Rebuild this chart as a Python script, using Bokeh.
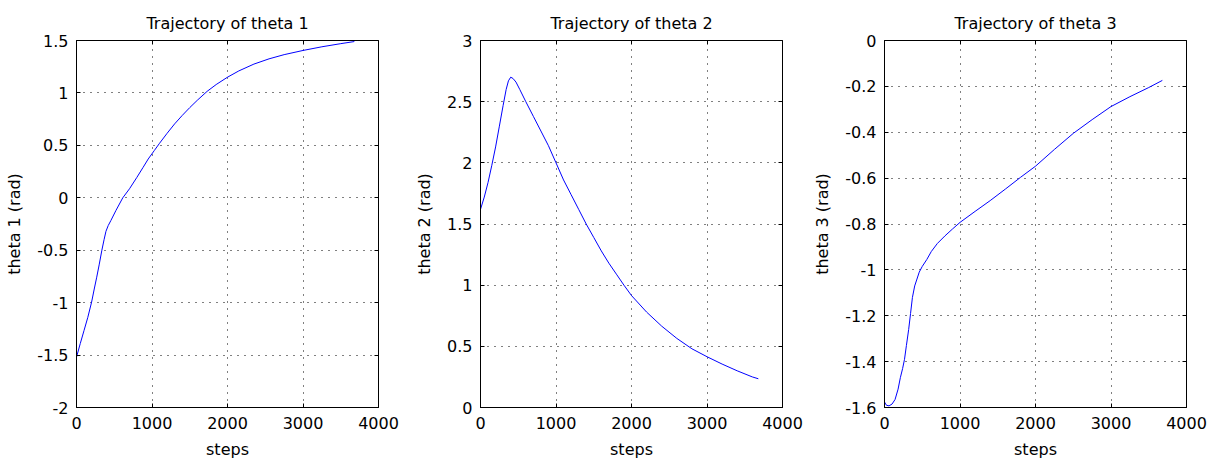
from bokeh.plotting import figure
from bokeh.layouts import row
from bokeh.models import FixedTicker, CustomJSTickFormatter, LinearAxis, Range1d
from bokeh.embed import file_html
from bokeh.resources import INLINE

# ---- data ----
x_ticks = [0, 1000, 2000, 3000, 4000]

steps1 = [0, 50, 100, 150, 200, 235, 268, 300, 336, 365, 390, 420, 456, 523, 613,
          702, 800, 882, 950, 1030, 1100, 1200, 1300, 1400, 1500, 1600, 1730, 1850,
          2000, 2150, 2350, 2550, 2750, 3000, 3250, 3500, 3680]
theta1 = [-1.52, -1.39, -1.265, -1.14, -0.995, -0.87, -0.757, -0.64, -0.5, -0.4,
          -0.32, -0.265, -0.216, -0.12, 0.0, 0.086, 0.195, 0.29, 0.37, 0.45, 0.52,
          0.615, 0.705, 0.785, 0.86, 0.93, 1.015, 1.08, 1.15, 1.21, 1.275, 1.325,
          1.365, 1.405, 1.44, 1.47, 1.49]
y_ticks1 = [-2, -1.5, -1, -0.5, 0, 0.5, 1, 1.5]

steps2 = [0, 50, 100, 150, 200, 250, 300, 340, 370, 400, 430, 470, 520, 600, 700,
          800, 900, 1000, 1100, 1200, 1300, 1400, 1500, 1600, 1700, 1800, 1900, 2000,
          2200, 2400, 2600, 2800, 3000, 3200, 3400, 3600, 3680]
theta2 = [1.62, 1.72, 1.84, 1.98, 2.13, 2.3, 2.47, 2.6, 2.67, 2.70, 2.69, 2.66, 2.6,
          2.5, 2.38, 2.26, 2.14, 2.0, 1.86, 1.74, 1.62, 1.5, 1.39, 1.28, 1.18, 1.09,
          1.0, 0.915, 0.78, 0.665, 0.565, 0.48, 0.415, 0.355, 0.3, 0.25, 0.235]
y_ticks2 = [0, 0.5, 1, 1.5, 2, 2.5, 3]

steps3 = [0, 25, 60, 100, 140, 180, 210, 240, 265, 290, 320, 345, 370, 400, 430,
          460, 500, 560, 620, 700, 800, 900, 1000, 1200, 1400, 1600, 1800, 2000,
          2250, 2500, 2750, 3000, 3250, 3500, 3680]
theta3 = [-1.576, -1.59, -1.593, -1.585, -1.565, -1.52, -1.47, -1.43, -1.39, -1.33,
          -1.26, -1.19, -1.12, -1.07, -1.04, -1.01, -0.985, -0.955, -0.92, -0.885,
          -0.852, -0.822, -0.793, -0.745, -0.698, -0.648, -0.597, -0.548, -0.475,
          -0.405, -0.345, -0.288, -0.245, -0.205, -0.174]
y_ticks3 = [-1.6, -1.4, -1.2, -1, -0.8, -0.6, -0.4, -0.2, 0]

FONT = "DejaVu Sans"
FS = "16px"


def style_axis(ax, ticks, show_labels=True):
    ax.ticker = FixedTicker(ticks=ticks)
    if show_labels:
        ax.formatter = CustomJSTickFormatter(code="return tick.toString();")
    else:
        ax.formatter = CustomJSTickFormatter(code="return '';")
    ax.major_tick_in = 4
    ax.major_tick_out = 0
    ax.minor_tick_in = 0
    ax.minor_tick_out = 0
    ax.axis_line_color = "black"
    ax.major_tick_line_color = "black"
    ax.major_label_text_font = FONT
    ax.major_label_text_font_size = FS
    ax.major_label_text_color = "black"
    ax.axis_label_text_font = FONT
    ax.axis_label_text_font_size = FS
    ax.axis_label_text_font_style = "normal"
    ax.axis_label_text_color = "black"


def make_panel(title, xs, ys, ylabel, y_ticks):
    p = figure(frame_width=302, frame_height=367,
               min_border_left=76, min_border_right=26,
               min_border_top=40, min_border_bottom=52,
               x_range=Range1d(0, 4000),
               y_range=Range1d(min(y_ticks), max(y_ticks)),
               output_backend="svg", toolbar_location=None,
               title=title)
    p.title.text_font = FONT
    p.title.text_font_size = FS
    p.title.text_font_style = "normal"
    p.title.text_color = "black"
    p.title.align = "center"
    p.title.standoff = 16

    style_axis(p.xaxis[0], x_ticks)
    p.xaxis[0].axis_label = "steps"
    p.xaxis[0].major_label_standoff = 9
    p.xaxis[0].axis_label_standoff = 8

    style_axis(p.yaxis[0], y_ticks)
    p.yaxis[0].axis_label = ylabel
    p.yaxis[0].major_label_standoff = 8
    p.yaxis[0].axis_label_standoff = 10

    top = LinearAxis()
    style_axis(top, x_ticks, show_labels=False)
    top.axis_line_color = None
    top.major_label_standoff = 0
    p.add_layout(top, "above")

    right = LinearAxis()
    style_axis(right, y_ticks, show_labels=False)
    right.axis_line_color = None
    right.major_label_standoff = 0
    p.add_layout(right, "right")

    for g in (p.xgrid[0], p.ygrid[0]):
        g.grid_line_color = "black"
        g.grid_line_dash = "1 6"
        g.grid_line_width = 1
        g.grid_line_alpha = 1.0
    p.xgrid[0].ticker = FixedTicker(ticks=x_ticks)
    p.ygrid[0].ticker = FixedTicker(ticks=y_ticks)

    p.outline_line_color = "black"
    p.outline_line_width = 1
    p.outline_line_alpha = 1.0
    p.background_fill_color = "white"
    p.border_fill_color = "white"

    p.line(xs, ys, line_color="#0000ff", line_width=1)
    return p


p1 = make_panel("Trajectory of theta 1", steps1, theta1, "theta 1 (rad)", y_ticks1)
p2 = make_panel("Trajectory of theta 2", steps2, theta2, "theta 2 (rad)", y_ticks2)
p3 = make_panel("Trajectory of theta 3", steps3, theta3, "theta 3 (rad)", y_ticks3)

layout = row(p1, p2, p3)
open("out.html", "w").write(file_html(layout, INLINE))
